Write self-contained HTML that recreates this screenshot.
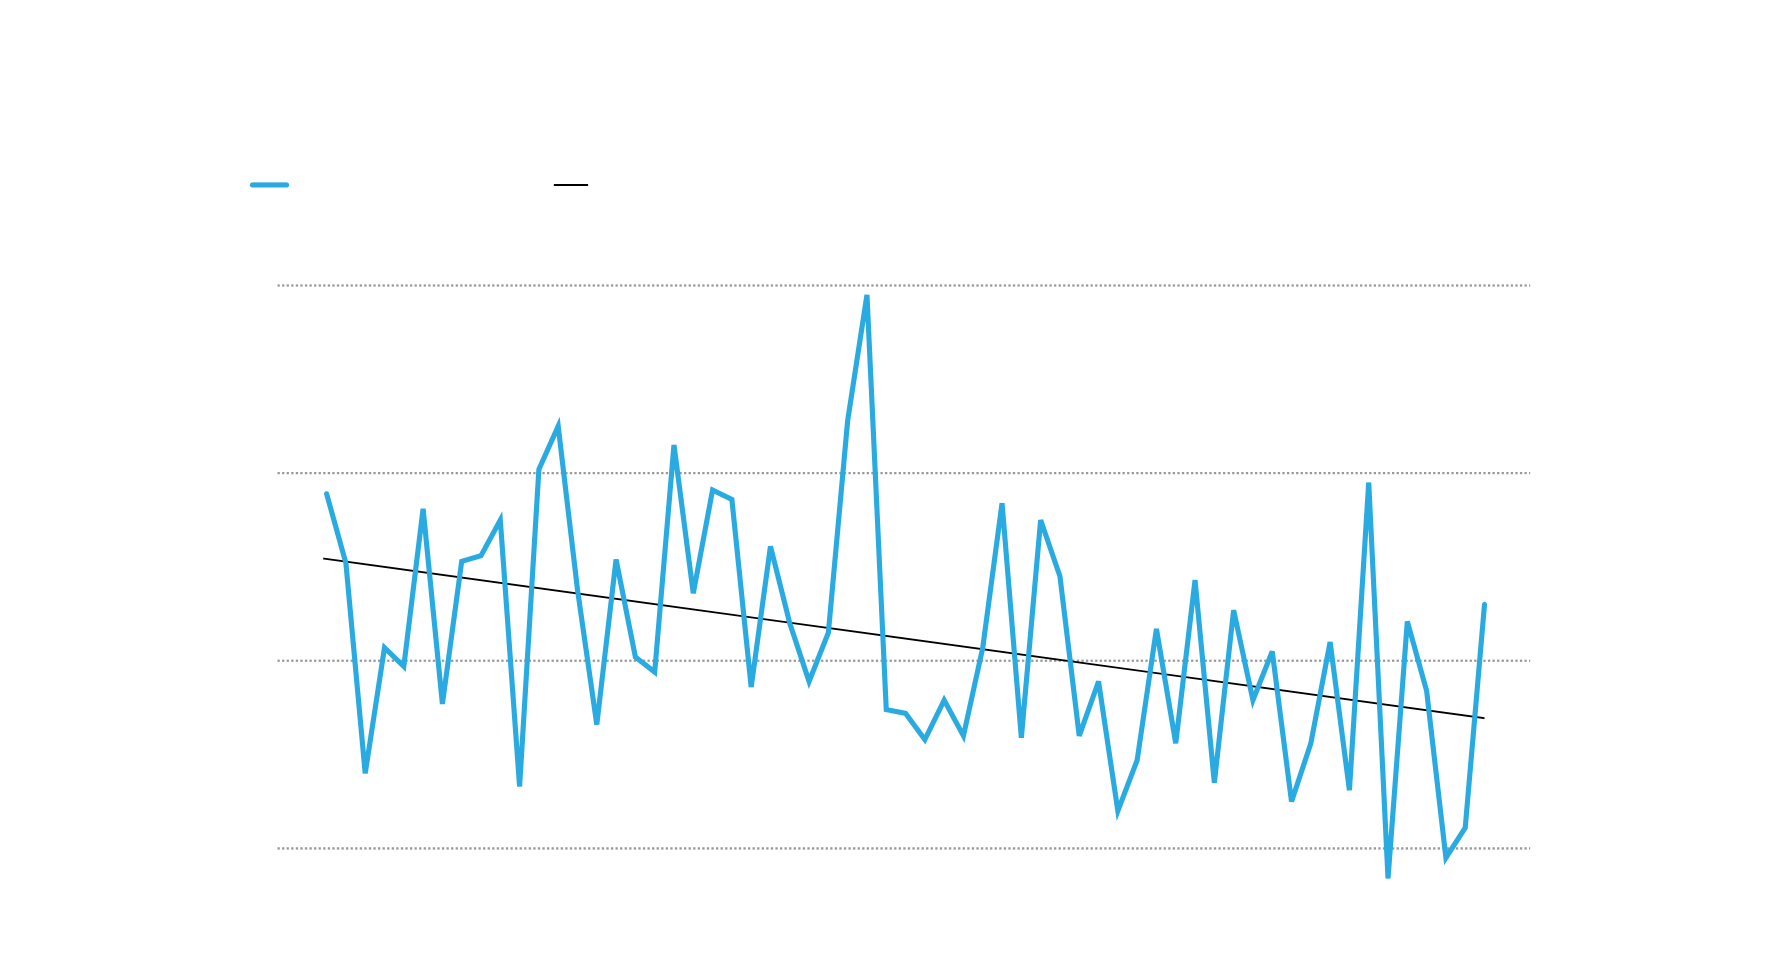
<!DOCTYPE html>
<html><head><meta charset="utf-8"><style>html,body{margin:0;padding:0;background:#fff}svg{display:block}</style></head>
<body>
<svg id="chart" width="1790" height="968" viewBox="0 0 1567.5 847.7" xmlns="http://www.w3.org/2000/svg">
<g id="grid"></g>
<line x1="221" y1="162" x2="251" y2="162" stroke="#29abe2" stroke-width="4.5" stroke-linecap="round"/>
<line x1="485" y1="162" x2="515" y2="162" stroke="#000" stroke-width="1.8"/>
<g id="marks"></g>
</svg>
<script>
const gridValues = [0, 1, 2, 3];
const seriesValues = [1.89,1.52,0.40,1.07,0.97,1.81,0.77,1.53,1.56,1.75,0.33,2.02,2.25,1.38,0.66,1.54,1.02,0.94,2.15,1.36,1.91,1.86,0.86,1.61,1.20,0.89,1.15,2.28,2.95,0.74,0.72,0.58,0.79,0.60,1.07,1.84,0.59,1.75,1.45,0.60,0.89,0.20,0.47,1.17,0.56,1.43,0.35,1.27,0.79,1.05,0.25,0.56,1.10,0.31,1.95,-0.16,1.21,0.84,-0.05,0.11,1.30];
const trendEnds = [1.545, 0.694];

const NS = 'http://www.w3.org/2000/svg';
const n = seriesValues.length;
const xScale = i => 286 + i * (1300 - 286) / (n - 1);
const yScale = v => 743 - v * 164.33;
const grid = document.getElementById('grid');
const marks = document.getElementById('marks');
gridValues.forEach(v => {
  const l = document.createElementNS(NS, 'line');
  
  
  l.setAttribute('x1', 243); l.setAttribute('x2', 1340);
  l.setAttribute('y1', yScale(v)); l.setAttribute('y2', yScale(v));
  l.setAttribute('stroke', '#999'); l.setAttribute('stroke-width', 2);
  l.setAttribute('stroke-dasharray', '2,2');
  grid.appendChild(l);
});
const t = document.createElementNS(NS, 'line');


t.setAttribute('x1', 283); t.setAttribute('y1', yScale(trendEnds[0]));
t.setAttribute('x2', 1300); t.setAttribute('y2', yScale(trendEnds[1]));
t.setAttribute('stroke', '#000'); t.setAttribute('stroke-width', 1.6);
marks.appendChild(t);
const p = document.createElementNS(NS, 'polyline');


p.setAttribute('points', seriesValues.map((v, i) => xScale(i) + ',' + yScale(v)).join(' '));
p.setAttribute('fill', 'none'); p.setAttribute('stroke', '#29abe2');
p.setAttribute('stroke-width', 4.5); p.setAttribute('stroke-linejoin', 'miter');
p.setAttribute('stroke-linecap', 'round');
marks.appendChild(p);
</script>
</body></html>
